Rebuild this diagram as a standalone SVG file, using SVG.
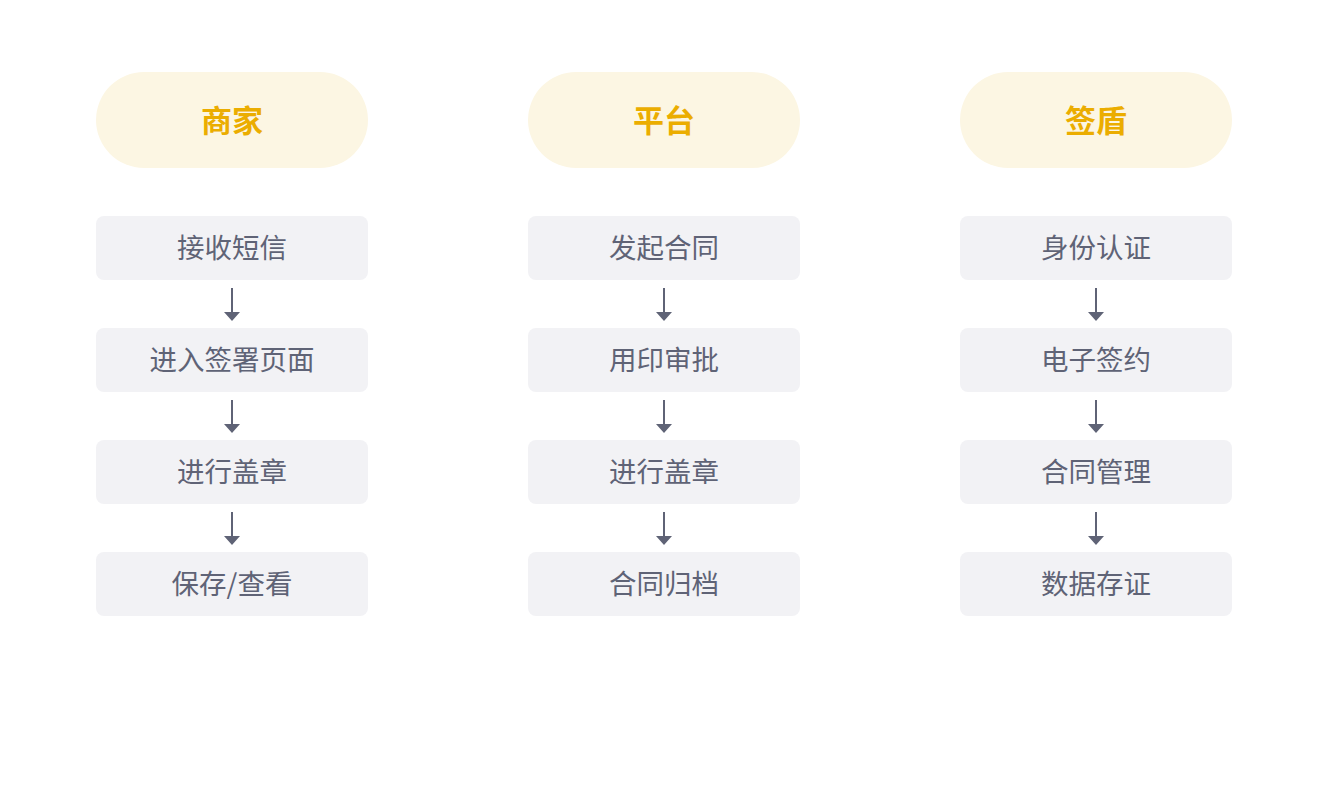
<svg xmlns="http://www.w3.org/2000/svg" width="1328" height="804" viewBox="0 0 1328 804">
<defs>
<style>
.pill{fill:#FCF6E3}
.title{font-family:"Noto Sans CJK SC","Noto Sans",sans-serif;font-size:31px;font-weight:bold;fill:#EBAD00;text-anchor:middle;dominant-baseline:central}
.box{fill:#F2F2F5}
.lbl{font-family:"Noto Sans CJK SC","Noto Sans",sans-serif;font-size:27.5px;fill:#5F6376;text-anchor:middle;dominant-baseline:central}
.ln{stroke:#5F6376;stroke-width:2;fill:none}
.hd{fill:#5F6376}
</style>
</defs>
<rect width="1328" height="804" fill="#FFFFFF"/>
<g id="col-merchant">
<g id="merchant-title"><rect class="pill" x="96" y="72" width="272" height="96" rx="48"/><text class="title" x="232" y="118">商家</text></g>
<g id="m1"><rect class="box" x="96" y="216" width="272" height="64" rx="8"/><text class="lbl" x="232" y="246">接收短信</text></g>
<g id="m2"><rect class="box" x="96" y="328" width="272" height="64" rx="8"/><text class="lbl" x="232" y="358">进入签署页面</text></g>
<g id="m3"><rect class="box" x="96" y="440" width="272" height="64" rx="8"/><text class="lbl" x="232" y="470">进行盖章</text></g>
<g id="m4"><rect class="box" x="96" y="552" width="272" height="64" rx="8"/><text class="lbl" x="232" y="582">保存/查看</text></g>
</g>
<g id="col-platform">
<g id="platform-title"><rect class="pill" x="528" y="72" width="272" height="96" rx="48"/><text class="title" x="664" y="118">平台</text></g>
<g id="p1"><rect class="box" x="528" y="216" width="272" height="64" rx="8"/><text class="lbl" x="664" y="246">发起合同</text></g>
<g id="p2"><rect class="box" x="528" y="328" width="272" height="64" rx="8"/><text class="lbl" x="664" y="358">用印审批</text></g>
<g id="p3"><rect class="box" x="528" y="440" width="272" height="64" rx="8"/><text class="lbl" x="664" y="470">进行盖章</text></g>
<g id="p4"><rect class="box" x="528" y="552" width="272" height="64" rx="8"/><text class="lbl" x="664" y="582">合同归档</text></g>
</g>
<g id="col-qiandun">
<g id="qiandun-title"><rect class="pill" x="960" y="72" width="272" height="96" rx="48"/><text class="title" x="1096" y="118">签盾</text></g>
<g id="q1"><rect class="box" x="960" y="216" width="272" height="64" rx="8"/><text class="lbl" x="1096" y="246">身份认证</text></g>
<g id="q2"><rect class="box" x="960" y="328" width="272" height="64" rx="8"/><text class="lbl" x="1096" y="358">电子签约</text></g>
<g id="q3"><rect class="box" x="960" y="440" width="272" height="64" rx="8"/><text class="lbl" x="1096" y="470">合同管理</text></g>
<g id="q4"><rect class="box" x="960" y="552" width="272" height="64" rx="8"/><text class="lbl" x="1096" y="582">数据存证</text></g>
</g>
<g id="connectors">
<g transform="translate(232,0)">
<path class="ln" d="M0 288V313M0 400V425M0 512V537"/>
<path class="hd" d="M-8 312H8L0 321ZM-8 424H8L0 433ZM-8 536H8L0 545Z"/>
</g>
<g transform="translate(664,0)">
<path class="ln" d="M0 288V313M0 400V425M0 512V537"/>
<path class="hd" d="M-8 312H8L0 321ZM-8 424H8L0 433ZM-8 536H8L0 545Z"/>
</g>
<g transform="translate(1096,0)">
<path class="ln" d="M0 288V313M0 400V425M0 512V537"/>
<path class="hd" d="M-8 312H8L0 321ZM-8 424H8L0 433ZM-8 536H8L0 545Z"/>
</g>
</g>
</svg>
